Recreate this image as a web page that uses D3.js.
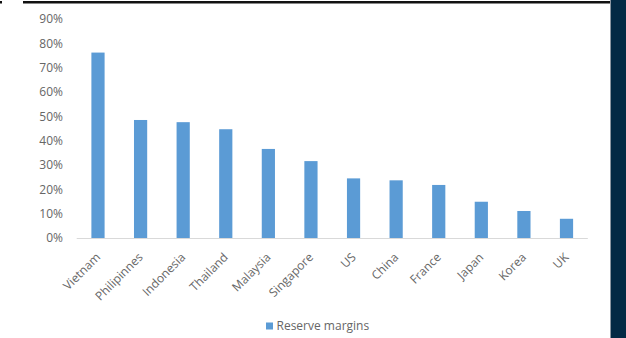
<!DOCTYPE html>
<html>
<head>
<meta charset="utf-8">
<script src="https://cdn.jsdelivr.net/npm/d3@7/dist/d3.min.js"></script>
<style>
  html, body { margin: 0; padding: 0; background: #ffffff; }
  svg { display: block; }
</style>
</head>
<body>
<svg id="chart" width="626" height="338"></svg>
<script>
// Reserve margins by country
const categories = ["Vietnam", "Philipinnes", "Indonesia", "Thailand", "Malaysia", "Singapore",
                    "US", "China", "France", "Japan", "Korea", "UK"];
const reserveMargins = [76.2, 48.5, 47.6, 44.7, 36.6, 31.6, 24.5, 23.7, 21.8, 14.9, 11.1, 7.9];
const yTicks = [0, 10, 20, 30, 40, 50, 60, 70, 80, 90];
const seriesName = "Reserve margins";

const svg = d3.select("#chart");
const W = 626, H = 338;

// frame: dark rule along the top and navy panel on the right
svg.append("rect").attr("x", 0).attr("y", 0).attr("width", W).attr("height", H).attr("fill", "#ffffff");
svg.append("rect").attr("x", 23).attr("y", 1).attr("width", 588).attr("height", 2.5).attr("fill", "#111111");
svg.append("rect").attr("x", 0).attr("y", 1).attr("width", 2).attr("height", 2.5).attr("fill", "#111111");
svg.append("rect").attr("x", 610).attr("y", 0).attr("width", 1).attr("height", H).attr("fill", "#8a96a0");
svg.append("rect").attr("x", 611).attr("y", 0).attr("width", W - 611).attr("height", H).attr("fill", "#032a44");

const x = d3.scaleBand().domain(categories).range([76.7, 587.8]).paddingInner(0.69).paddingOuter(0.345);
const y = d3.scaleLinear().domain([0, 90]).range([238, 19]);

const font = "'Open Sans', 'Liberation Sans', sans-serif";
const textColor = "#666666";
const fontSize = "12px";

// y axis labels (no axis line)
const yAxis = svg.append("g").attr("transform", "translate(63,0)")
  .call(d3.axisLeft(y).tickValues(yTicks).tickSize(0).tickPadding(0).tickFormat(d => d + "%"));
yAxis.select(".domain").remove();
yAxis.selectAll("text").attr("fill", textColor).style("font-family", font).style("font-size", fontSize);

// bars
svg.append("g").selectAll("rect").data(categories).join("rect")
  .attr("x", d => x(d))
  .attr("width", x.bandwidth())
  .attr("y", (d, i) => y(reserveMargins[i]))
  .attr("height", (d, i) => y(0) - y(reserveMargins[i]))
  .attr("fill", "#5b9bd5");

// category axis
const xAxis = svg.append("g").attr("transform", "translate(0,238)")
  .call(d3.axisBottom(x).tickSize(0).tickPadding(0));
xAxis.select(".domain").attr("stroke", "#d9d9d9").attr("stroke-width", 1.2)
  .attr("d", "M76.7,0.5H587.8");
xAxis.selectAll(".tick text")
  .attr("fill", textColor)
  .style("font-family", font).style("font-size", fontSize)
  .attr("text-anchor", "end")
  .attr("dy", 0).attr("y", 0)
  .attr("transform", "translate(3,20) rotate(-45)");

// legend
const lg = svg.append("g").attr("transform", "translate(266,322.5)");
lg.append("rect").attr("width", 7).attr("height", 7).attr("fill", "#5b9bd5");
lg.append("text").attr("x", 10.5).attr("y", 7.5).text(seriesName)
  .attr("fill", textColor).style("font-family", font).style("font-size", fontSize);
</script>
</body>
</html>
